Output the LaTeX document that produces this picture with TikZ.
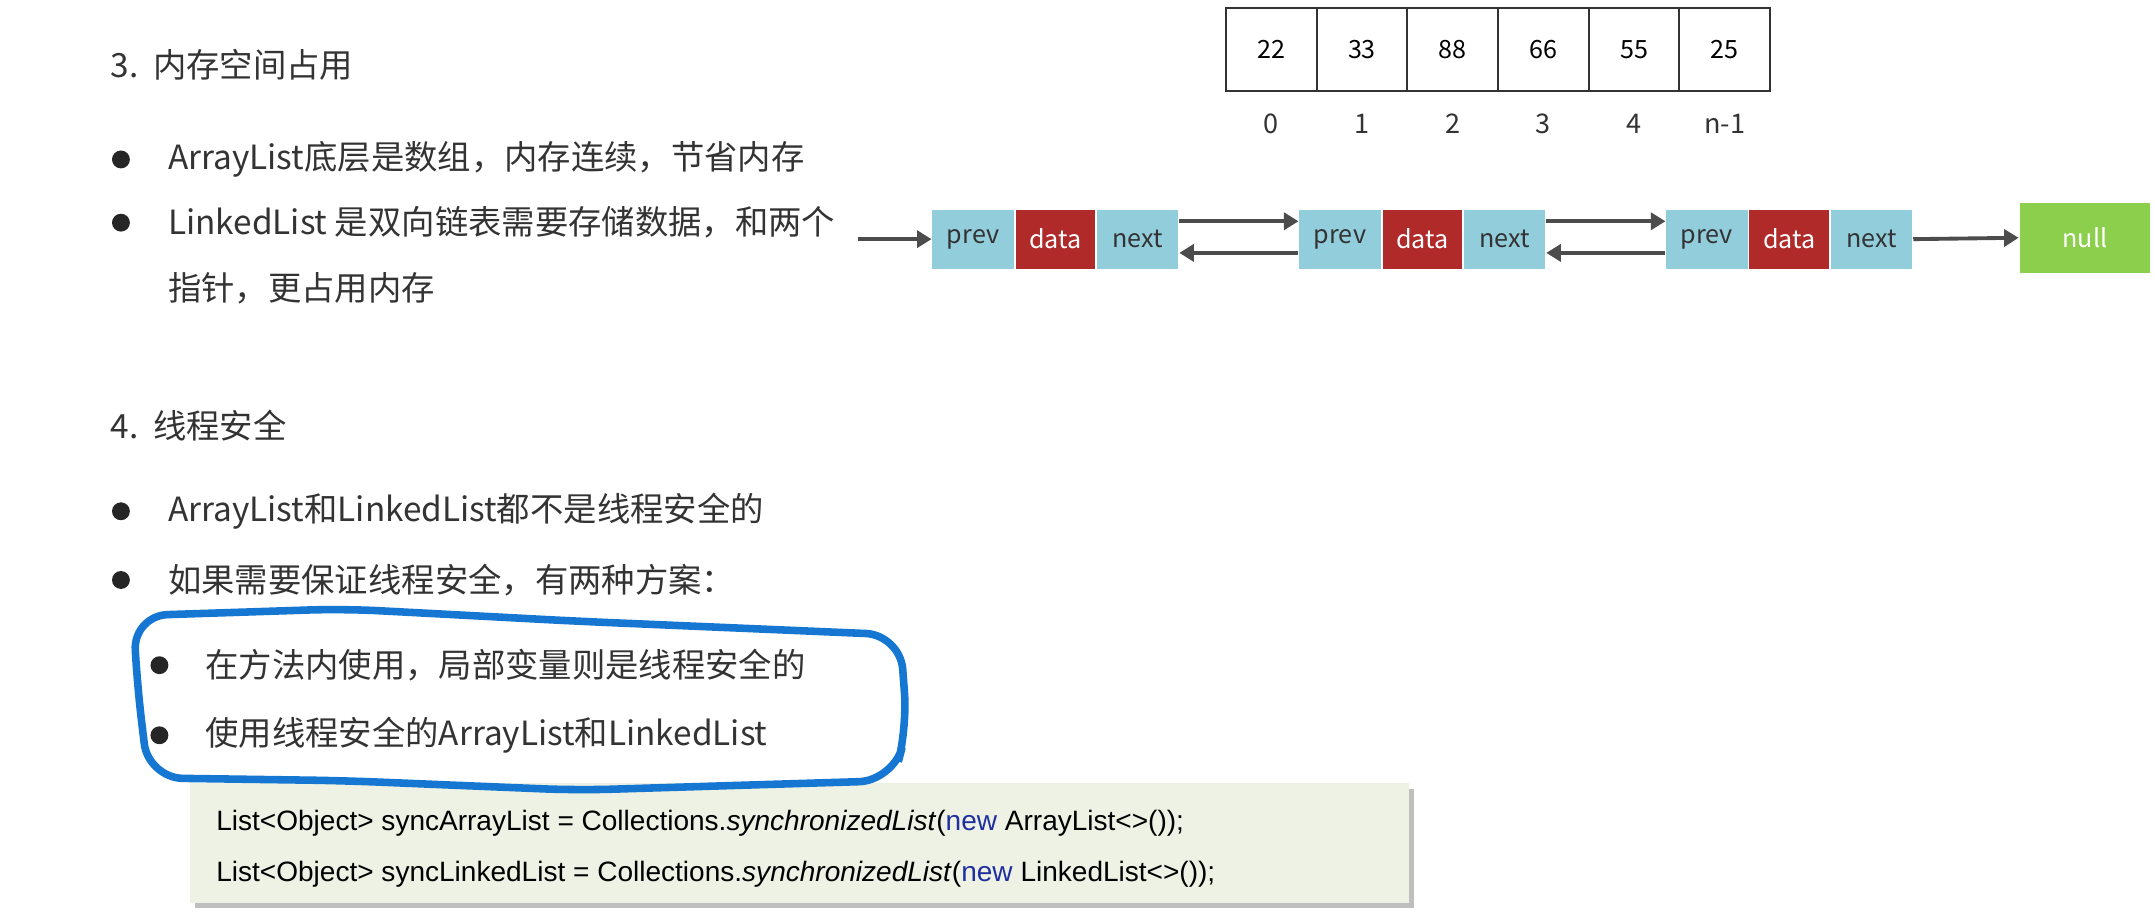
\documentclass[tikz,border=0pt]{standalone}
\usepackage{fontspec}
\setmainfont{Noto Sans CJK SC}
\newfontfamily\codefont{Liberation Sans}
\usetikzlibrary{positioning,arrows.meta}
\definecolor{cellblue}{HTML}{92CDDC}
\definecolor{cellred}{HTML}{B02A2A}
\definecolor{nullgreen}{HTML}{8CCF4D}
\definecolor{markblue}{HTML}{1677D2}
\definecolor{codebg}{HTML}{EEF2E4}
\definecolor{kwblue}{HTML}{1F2FA0}
\tikzset{
  bigtext/.style={anchor=west,font=\fontsize{6.9}{8}\selectfont,text=black!80},
  dot/.style={circle,fill=black!85,inner sep=0pt,minimum size=0.13cm},
  arrcell/.style={draw=black!80,minimum width=0.66cm,minimum height=0.61cm,inner sep=0pt,font=\fontsize{5.2}{6}\selectfont},
  idx/.style={font=\fontsize{5.6}{6}\selectfont,text=black!80},
  ptr/.style={fill=cellblue,minimum width=0.59cm,minimum height=0.43cm,inner sep=0pt,font=\fontsize{5.2}{6}\selectfont,text=black!80},
  dat/.style={fill=cellred,text=white,minimum width=0.58cm,minimum height=0.43cm,inner sep=0pt,font=\fontsize{5.2}{6}\selectfont},
  link/.style={draw=black!70,line width=0.8pt,-{Triangle[length=3pt,width=3.5pt]}},
  codeline/.style={anchor=west,font=\codefont\fontsize{5.8}{6}\selectfont}
}
\begin{document}
\begin{tikzpicture}[x=0.01cm,y=-0.01cm]
  \useasboundingbox[fill=white] (0,0) rectangle (1568,666);

  % section 3
  \node[bigtext] (h3) at (68,47) {3.\ \ 内存空间占用};
  \node[dot] (b1) at (88,116) {};
  \node[bigtext] (t1) at (110,116) {ArrayList底层是数组，内存连续，节省内存};
  \node[dot] (b2) at (88,162) {};
  \node[bigtext] (t2) at (110,162) {LinkedList 是双向链表需要存储数据，和两个};
  \node[bigtext] (t2b) at (110,210) {指针，更占用内存};

  % section 4
  \node[bigtext] (h4) at (68,310) {4.\ \ 线程安全};
  \node[dot] (b3) at (88,372) {};
  \node[bigtext] (t3) at (110,372) {ArrayList和LinkedList都不是线程安全的};
  \node[dot] (b4) at (88,422) {};
  \node[bigtext] (t4) at (110,422) {如果需要保证线程安全，有两种方案：};
  \node[dot] (b5) at (116,484) {};
  \node[bigtext] (t5) at (137,484) {在方法内使用，局部变量则是线程安全的};
  \node[dot] (b6) at (116,535) {};
  \node[bigtext] (t6) at (137,535) {使用线程安全的ArrayList和LinkedList};

  % code box
  \fill[black!25] (142,574) rectangle (1029,661);
  \fill[codebg] (138,570) rectangle (1025,657);
  \node[codeline] (c1) at (145,599) {List<Object> syncArrayList = Collections.\textit{synchronizedList}(\textcolor{kwblue}{new} ArrayList<>());};
  \node[codeline] (c2) at (145,636) {List<Object> syncLinkedList = Collections.\textit{synchronizedList}(\textcolor{kwblue}{new} LinkedList<>());};

  % hand-drawn mark
  \draw[markblue,line width=0.055cm,rounded corners=0.25cm]
    (97,448) -- (250,443) -- (420,452) -- (655,462) -- (660,530) -- (650,568)
    -- (420,575) -- (250,568) -- (108,566) -- (100,500) -- cycle;

  % array
  \foreach \v [count=\i from 0] in {22,33,88,66,55,25}
    \node[arrcell] (a\i) at (925+66*\i,36) {\v};
  \foreach \l [count=\i from 0] in {0,1,2,3,4,n-1}
    \node[idx] (n\i) at (925+66*\i,90) {\l};

  % linked list
  \foreach \k/\x in {1/708,2/975,3/1242}{
    \node[ptr] (p\k) at (\x,174) {prev};
    \node[dat,right=0pt of p\k] (d\k) {data};
    \node[ptr,right=0pt of d\k] (x\k) {next};
  }
  \node[fill=nullgreen,text=white,minimum width=0.95cm,minimum height=0.51cm,inner sep=0pt,font=\fontsize{5.2}{6}\selectfont] (nul) at (1517,173) {null};
  \coordinate (in) at (624,174);
  \draw[link] (in) -- (p1.west);
  \draw[link] ([yshift=0.13cm]x1.east) -- ([yshift=0.13cm]p2.west);
  \draw[link] ([yshift=-0.1cm]p2.west) -- ([yshift=-0.1cm]x1.east);
  \draw[link] ([yshift=0.13cm]x2.east) -- ([yshift=0.13cm]p3.west);
  \draw[link] ([yshift=-0.1cm]p3.west) -- ([yshift=-0.1cm]x2.east);
  \draw[link] (x3.east) -- (nul.west);
\end{tikzpicture}
\end{document}
